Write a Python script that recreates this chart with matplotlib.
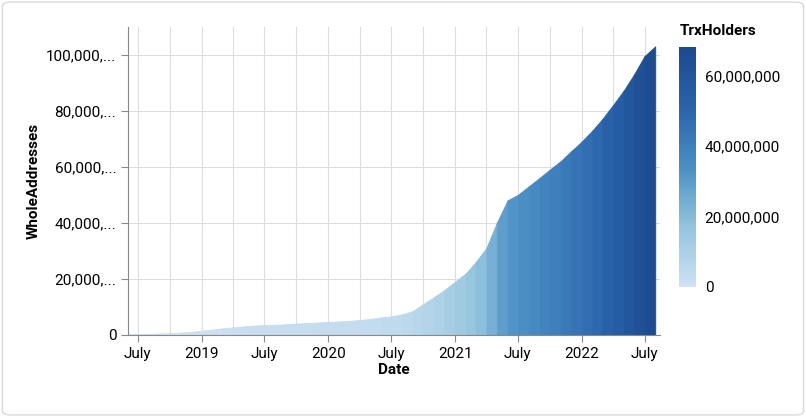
import matplotlib.pyplot as plt
import matplotlib.dates as mdates
import numpy as np
import pandas as pd
from matplotlib.colors import LinearSegmentedColormap, Normalize
from matplotlib.patches import FancyBboxPatch

plt.rcParams['font.family'] = ['Roboto', 'DejaVu Sans']

# Monthly samples, June 2018 .. August 2022 (millions)
months = pd.date_range('2018-06-01', '2022-08-01', freq='MS')
whole_m = [0.2, 0.3, 0.4, 0.5, 0.6, 0.8, 1.1,
           1.5, 1.9, 2.3, 2.7, 3.0, 3.3, 3.5, 3.6, 3.8, 4.0, 4.2, 4.4,
           4.6, 4.8, 5.0, 5.3, 5.7, 6.2, 6.6, 7.3, 8.5, 11.0, 13.5, 16.0,
           19.0, 22.0, 26.0, 31.0, 40.0, 48.0, 50.0, 53.0, 56.0, 59.0, 62.0, 65.5,
           69.0, 73.0, 77.0, 82.0, 87.0, 93.0, 99.5, 103.0]
holders_m = [0.1, 0.2, 0.3, 0.3, 0.4, 0.5, 0.7,
             1.0, 1.2, 1.5, 1.8, 2.0, 2.2, 2.3, 2.4, 2.5, 2.6, 2.8, 2.9,
             3.0, 3.2, 3.3, 3.5, 3.8, 4.1, 4.4, 4.8, 5.6, 7.3, 8.9, 10.6,
             12.5, 14.5, 17.2, 20.5, 26.4, 31.7, 33.0, 35.0, 37.0, 39.0, 41.0, 43.2,
             45.5, 48.2, 50.8, 54.1, 57.4, 61.4, 65.7, 68.0]

whole = np.array(whole_m) * 1e6
holders = np.array(holders_m) * 1e6
xs = mdates.date2num(months)

cmap = LinearSegmentedColormap.from_list('blues', ['#cfe1f2', '#93c4de', '#4a8fc4', '#2a63ab', '#1c4a8f'])
norm = Normalize(0, 68e6)

fig = plt.figure(figsize=(8.06, 4.17), dpi=100)
fig.patches.append(FancyBboxPatch((0.003, 0.005), 0.994, 0.99, boxstyle='round,pad=0,rounding_size=0.01',
                                  transform=fig.transFigure, fill=False, edgecolor='#d9d9d9', linewidth=1))
ax = fig.add_axes([0.159, 0.197, 0.66, 0.739])

for i in range(len(xs) - 1):
    ax.fill_between(xs[i:i + 2], 0, whole[i:i + 2], color=cmap(norm((holders[i] + holders[i + 1]) / 2)),
                    linewidth=0.6, edgecolor=cmap(norm((holders[i] + holders[i + 1]) / 2)))

ax.set_xlim(mdates.date2num(pd.Timestamp('2018-06-03')), mdates.date2num(pd.Timestamp('2022-08-15')))
ax.set_ylim(0, 110e6)
yt = [0, 20e6, 40e6, 60e6, 80e6, 100e6]
ax.set_yticks(yt)
ax.set_yticklabels(['0', '20,000,...', '40,000,...', '60,000,...', '80,000,...', '100,000,...'])
ticks = pd.date_range('2018-07-01', '2022-07-01', freq='6MS')
ax.set_xticks(mdates.date2num(ticks))
ax.set_xticklabels([('July' if d.month == 7 else str(d.year)) for d in ticks])
ax.set_xticks(mdates.date2num(pd.date_range('2018-07-01', '2022-07-01', freq='3MS')), minor=True)
ax.grid(True, which='both', color='#dddddd', linewidth=0.8)
ax.set_axisbelow(True)
for s in ['top', 'right']:
    ax.spines[s].set_visible(False)
for s in ['left', 'bottom']:
    ax.spines[s].set_color('#888888')
ax.tick_params(which='both', color='#888888', length=5, labelsize=11)
ax.tick_params(which='minor', length=0)
ax.set_xlabel('Date', fontsize=11, fontweight='bold', labelpad=2)
ax.set_ylabel('WholeAddresses', fontsize=11, fontweight='bold')

cax = fig.add_axes([0.843, 0.312, 0.021, 0.575])
cb = fig.colorbar(plt.cm.ScalarMappable(norm=norm, cmap=cmap), cax=cax)
cb.set_ticks([0, 20e6, 40e6, 60e6])
cb.set_ticklabels(['0', '20,000,000', '40,000,000', '60,000,000'])
cb.outline.set_visible(False)
cax.tick_params(length=0, labelsize=11, pad=6)
fig.text(0.843, 0.915, 'TrxHolders', fontsize=11, fontweight='bold')

fig.savefig('out.png', dpi=100)
